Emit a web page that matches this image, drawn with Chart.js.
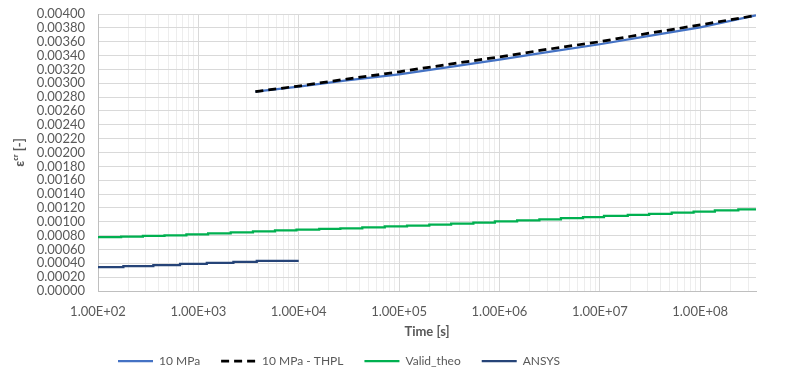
<!DOCTYPE html>
<html>
<head>
<meta charset="utf-8">
<script src="https://cdn.jsdelivr.net/npm/chart.js@4.4.1/dist/chart.umd.min.js"></script>
<style>
  html, body { margin: 0; padding: 0; background: #fff; }
  #wrap { width: 800px; height: 374px; }
</style>
</head>
<body>
<div id="wrap"><canvas id="chart" width="800" height="374"></canvas></div>
<script>
// 10 MPa
const mpaTime = [3700, 10000, 30000, 100000, 300000, 1000000, 3000000, 10000000, 30000000, 100000000, 360000000];
const mpaStrain = [0.00288, 0.00295, 0.00304, 0.003127, 0.00323, 0.003342, 0.00345, 0.003563, 0.00368, 0.003807, 0.00398];

// 10 MPa - THPL
const thplTime = [3700, 10000, 30000, 100000, 300000, 1000000, 3000000, 10000000, 30000000, 100000000, 360000000];
const thplStrain = [0.00288, 0.00296, 0.00306, 0.003165, 0.00327, 0.00338, 0.00349, 0.0036, 0.00372, 0.003842, 0.00398];

// Valid_theo (stepped)
const theoTime = [100, 170, 280, 460, 760, 1250, 2100, 3500, 5800, 9500, 16000, 26000, 43000, 72000,
  120000, 200000, 330000, 550000, 900000, 1500000, 2500000, 4100000, 6800000, 11000000, 19000000,
  31000000, 52000000, 86000000, 140000000, 240000000, 360000000];
const theoStrain = [0.000770, 0.000778, 0.000786, 0.000795, 0.000805, 0.000818, 0.000832, 0.000846, 0.000860,
  0.000875, 0.000886, 0.000896, 0.000906, 0.000918, 0.000932, 0.000945, 0.000958, 0.000972, 0.000988,
  0.001004, 0.001020, 0.001036, 0.001052, 0.001068, 0.001084, 0.001099, 0.001114, 0.001130, 0.001146,
  0.001165, 0.001180];

// ANSYS (stepped)
const ansysTime = [100, 179, 356, 657, 1213, 2234, 3818, 7047, 10000];
const ansysStrain = [0.000330, 0.000345, 0.000360, 0.000375, 0.000390, 0.000405, 0.000420, 0.000436, 0.000436];

const xMin = 100, xMax = 360000000;
const xDecades = [1e2, 1e3, 1e4, 1e5, 1e6, 1e7, 1e8];
const xTickLabels = ['1.00E+02', '1.00E+03', '1.00E+04', '1.00E+05', '1.00E+06', '1.00E+07', '1.00E+08'];
const yMin = 0, yMax = 0.004, yStep = 0.0002;

function pts(xs, ys) {
  return xs.map((x, i) => ({ x: x, y: ys[i] }));
}

const gray = '#595959';
const family = 'Lato, "Open Sans", sans-serif';
const font = { family: family, size: 13 };

// put the legend where Excel had it (left-ish, under the axis title)
const legendPlace = {
  id: 'legendPlace',
  afterLayout(chart) {
    const lg = chart.legend;
    if (!lg) return;
    const pad = lg.options.labels.padding;
    const w = lg.right - lg.left;
    lg.left = 118 - pad;
    lg.right = lg.left + w;
    lg.top = 361 - pad - 6;
  }
};

new Chart(document.getElementById('chart'), {
  type: 'line',
  data: {
    datasets: [
      { label: '10 MPa', data: pts(mpaTime, mpaStrain), borderColor: '#4472C4', backgroundColor: '#4472C4',
        borderWidth: 2.25, pointRadius: 0, tension: 0, order: 2 },
      { label: '10 MPa - THPL', data: pts(thplTime, thplStrain), borderColor: '#000000', backgroundColor: '#000000',
        borderWidth: 2.75, borderDash: [8, 5], pointRadius: 0, tension: 0, order: 1 },
      { label: 'Valid_theo', data: pts(theoTime, theoStrain), borderColor: '#00B050', backgroundColor: '#00B050',
        borderWidth: 2.25, pointRadius: 0, stepped: 'after', order: 3 },
      { label: 'ANSYS', data: pts(ansysTime, ansysStrain), borderColor: '#264478', backgroundColor: '#264478',
        borderWidth: 2.25, pointRadius: 0, stepped: 'after', order: 0 }
    ]
  },
  plugins: [legendPlace],
  options: {
    responsive: false,
    animation: false,
    layout: { padding: { left: 8, right: 44, top: 14, bottom: -9 } },
    plugins: {
      tooltip: { enabled: false },
      legend: {
        position: 'bottom',
        align: 'start',
        labels: {
          color: gray, font: { family: family, size: 12 }, usePointStyle: true, pointStyle: 'line',
          pointStyleWidth: 35, boxHeight: 2, padding: 21,
          sort: (a, b) => a.datasetIndex - b.datasetIndex,
          generateLabels: (chart) => Chart.defaults.plugins.legend.labels.generateLabels(chart).map(item => {
            const ds = chart.data.datasets[item.datasetIndex];
            item.lineDash = ds.borderDash || [];
            item.lineWidth = ds.borderWidth;
            item.strokeStyle = ds.borderColor;
            return item;
          })
        }
      }
    },
    scales: {
      x: {
        type: 'logarithmic',
        min: xMin,
        max: xMax,
        afterFit: (scale) => { scale.height = 49; },
        afterBuildTicks: (scale) => {
          const ticks = [];
          xDecades.forEach(d => {
            for (let m = 1; m <= 9; m++) {
              const v = d * m;
              if (v <= xMax) ticks.push({ value: v });
            }
          });
          scale.ticks = ticks;
        },
        ticks: {
          autoSkip: false, maxRotation: 0, color: gray, font: font, padding: 13,
          callback: (v) => {
            const i = xDecades.indexOf(v);
            return i >= 0 ? xTickLabels[i] : '';
          }
        },
        grid: {
          drawTicks: false,
          color: (ctx) => (ctx.tick && xDecades.indexOf(ctx.tick.value) >= 0) ? '#d9d9d9' : '#ededed'
        },
        border: { color: '#bfbfbf' },
        title: { display: true, text: 'Time [s]', color: gray, font: { family: family, size: 13, weight: 'bold' }, padding: { top: 2, bottom: 0 } }
      },
      y: {
        min: yMin,
        max: yMax,
        afterFit: (scale) => { scale.width = 90; scale.paddingTop = 0; scale.paddingBottom = 0; },
        ticks: {
          stepSize: yStep, autoSkip: false, color: gray, font: font, padding: 13,
          callback: (v) => v.toFixed(5)
        },
        grid: { drawTicks: false, color: '#d9d9d9' },
        border: { color: '#bfbfbf' },
        title: { display: true, text: 'εᶜʳ [-]', color: gray, font: { family: family, size: 13, weight: 'bold' }, padding: { top: 4, bottom: 0 } }
      }
    }
  }
});
</script>
</body>
</html>
